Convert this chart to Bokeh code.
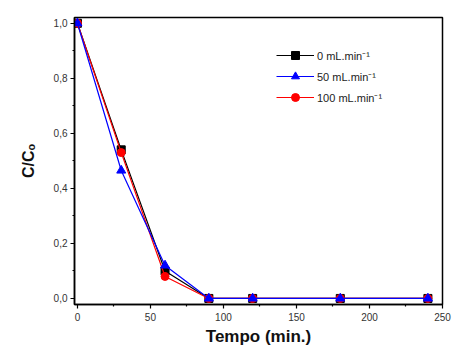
from bokeh.plotting import figure
from bokeh.models import Range1d, FixedTicker, Legend, LegendItem
from bokeh.embed import file_html
from bokeh.resources import INLINE

# Sampling times (min) and normalised concentration C/Co for each air flow rate
tempo = [0, 30, 60, 90, 120, 180, 240]
c_0 = [1.0, 0.54, 0.10, 0.0, 0.0, 0.0, 0.0]
c_50 = [1.0, 0.465, 0.12, 0.0, 0.0, 0.0, 0.0]
c_100 = [1.0, 0.53, 0.08, 0.0, 0.0, 0.0, 0.0]

labels = ["0 mL.min\u207b\u00b9", "50 mL.min\u207b\u00b9", "100 mL.min\u207b\u00b9"]

x_ticks = [0, 50, 100, 150, 200, 250]
y_ticks = [0.0, 0.2, 0.4, 0.6, 0.8, 1.0]

FONT = "Liberation Sans"

p = figure(width=455, height=353, output_backend="svg", toolbar_location=None,
           x_range=Range1d(-2, 250), y_range=Range1d(-0.022, 1.021),
           min_border_left=74, min_border_right=13, min_border_top=17,
           min_border_bottom=49)
p.grid.visible = False
p.outline_line_color = "black"
p.outline_line_width = 1.5
p.background_fill_color = "white"
p.border_fill_color = "white"

for ax in (p.xaxis[0], p.yaxis[0]):
    ax.axis_line_width = 1.5
    ax.major_tick_line_width = 1.2
    ax.minor_tick_line_width = 1.2
    ax.major_tick_in = 0
    ax.major_tick_out = 4
    ax.minor_tick_in = 0
    ax.minor_tick_out = 2
    ax.major_label_text_font = FONT
    ax.major_label_text_font_size = "10px"
    ax.major_label_text_color = "#333333"
    ax.axis_label_text_font = FONT
    ax.axis_label_text_font_style = "bold"
    ax.axis_label_text_color = "#111111"

p.xaxis.ticker = FixedTicker(ticks=x_ticks, minor_ticks=[25, 75, 125, 175, 225])
p.xaxis.major_label_overrides = {t: str(t) for t in x_ticks}
p.xaxis.axis_label = "Tempo (min.)"
p.xaxis.axis_label_text_font_size = "17px"
p.xaxis.major_label_standoff = 4
p.xaxis.axis_label_standoff = 3

p.yaxis.ticker = FixedTicker(ticks=y_ticks, minor_ticks=[0.1, 0.3, 0.5, 0.7, 0.9])
p.yaxis.major_label_overrides = {t: f"{t:.1f}".replace(".", ",") for t in y_ticks}
p.yaxis.axis_label = "C/C\u2092"
p.yaxis.axis_label_text_font_size = "16px"
p.yaxis.major_label_standoff = 3
p.yaxis.axis_label_standoff = 14

# Series: lines with markers
l0 = p.line(tempo, c_0, line_color="black", line_width=1.2)
m0 = p.scatter(tempo, c_0, marker="square", size=8, fill_color="black", line_color="black")
l100 = p.line(tempo, c_100, line_color="red", line_width=1.2)
m100 = p.scatter(tempo, c_100, marker="circle", size=8, fill_color="red", line_color="red")
l50 = p.line(tempo, c_50, line_color="blue", line_width=1.2)
m50 = p.scatter(tempo, c_50, marker="triangle", size=9, fill_color="blue", line_color="blue")

legend = Legend(items=[
    LegendItem(label=labels[0], renderers=[l0, m0]),
    LegendItem(label=labels[1], renderers=[l50, m50]),
    LegendItem(label=labels[2], renderers=[l100, m100]),
], location=(202, 197))
legend.border_line_color = None
legend.background_fill_alpha = 0
legend.label_text_font = FONT
legend.label_text_font_size = "11px"
legend.label_text_color = "#222222"
legend.glyph_width = 38
legend.glyph_height = 20
legend.label_height = 20
legend.spacing = 1
legend.padding = 0
legend.margin = 0
legend.label_standoff = 3
p.add_layout(legend)

open("out.html", "w").write(file_html(p, INLINE))
